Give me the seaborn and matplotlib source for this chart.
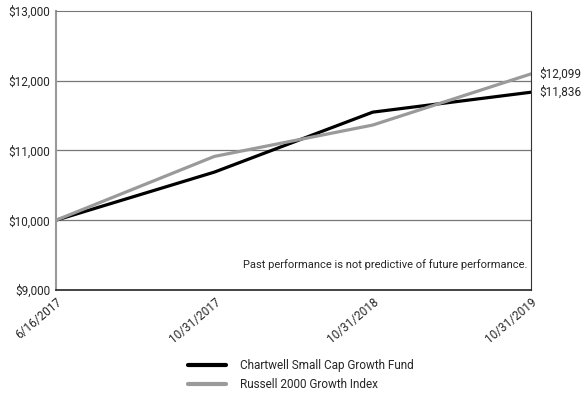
import pandas as pd
import matplotlib.pyplot as plt
import seaborn as sns

dates = ['6/16/2017', '10/31/2017', '10/31/2018', '10/31/2019']
fund_name = 'Chartwell Small Cap Growth Fund'
index_name = 'Russell 2000 Growth Index'
fund_vals = [10000, 10690, 11550, 11836]
index_vals = [10000, 10915, 11365, 12099]
yticks = [9000, 10000, 11000, 12000, 13000]

sns.set_style('white')
plt.rcParams['font.family'] = ['Roboto', 'DejaVu Sans']

df = pd.DataFrame({
    'date': dates * 2,
    'value': fund_vals + index_vals,
    'series': [fund_name] * 4 + [index_name] * 4,
})

fig = plt.figure(figsize=(5.88, 3.95), dpi=100)
ax = fig.add_axes([0.0952, 0.266, 0.808, 0.706])
sns.lineplot(data=df, x='date', y='value', hue='series', sort=False,
             palette={fund_name: '#000000', index_name: '#9a9a9a'},
             linewidth=2.3, ax=ax, legend=False)

ax.set_xlim(0, 3)
ax.set_ylim(9000, 13000)
ax.set_yticks(yticks)
ax.set_yticklabels([f'${v:,}' for v in yticks], fontsize=8.5)
ax.set_xticks(range(len(dates)))
ax.set_xticklabels(dates, rotation=40, ha='right', rotation_mode='anchor', fontsize=8.5)
ax.tick_params(axis='x', direction='in', length=4, color='#999999', pad=4)
ax.tick_params(axis='y', length=0, pad=4)
ax.set_xlabel('')
ax.set_ylabel('')
for v in yticks[1:-1]:
    ax.axhline(v, color='#777777', linewidth=0.9, zorder=0)

ax.spines['top'].set_color('#777777')
ax.spines['left'].set_color('#999999')
ax.spines['left'].set_linewidth(1.5)
ax.spines['right'].set_color('#333333')
ax.spines['bottom'].set_color('#222222')
ax.spines['bottom'].set_linewidth(1.2)

ax.annotate(f'${index_vals[-1]:,}', (3, index_vals[-1]), xytext=(6, 0),
            textcoords='offset points', va='center', fontsize=8.5, annotation_clip=False)
ax.annotate(f'${fund_vals[-1]:,}', (3, fund_vals[-1]), xytext=(6, 0),
            textcoords='offset points', va='center', fontsize=8.5, annotation_clip=False)
ax.text(0.993, 0.09, 'Past performance is not predictive of future performance.',
        transform=ax.transAxes, ha='right', va='center', fontsize=8)

handles = [plt.Line2D([], [], color='#000000', linewidth=3),
           plt.Line2D([], [], color='#9a9a9a', linewidth=3)]
fig.legend(handles, [fund_name, index_name], loc='upper left',
           bbox_to_anchor=(0.312, 0.104), frameon=False, fontsize=8.5,
           handlelength=3.2, handletextpad=1.2, labelspacing=0.55, borderaxespad=0)

fig.savefig('out.png', dpi=100)
